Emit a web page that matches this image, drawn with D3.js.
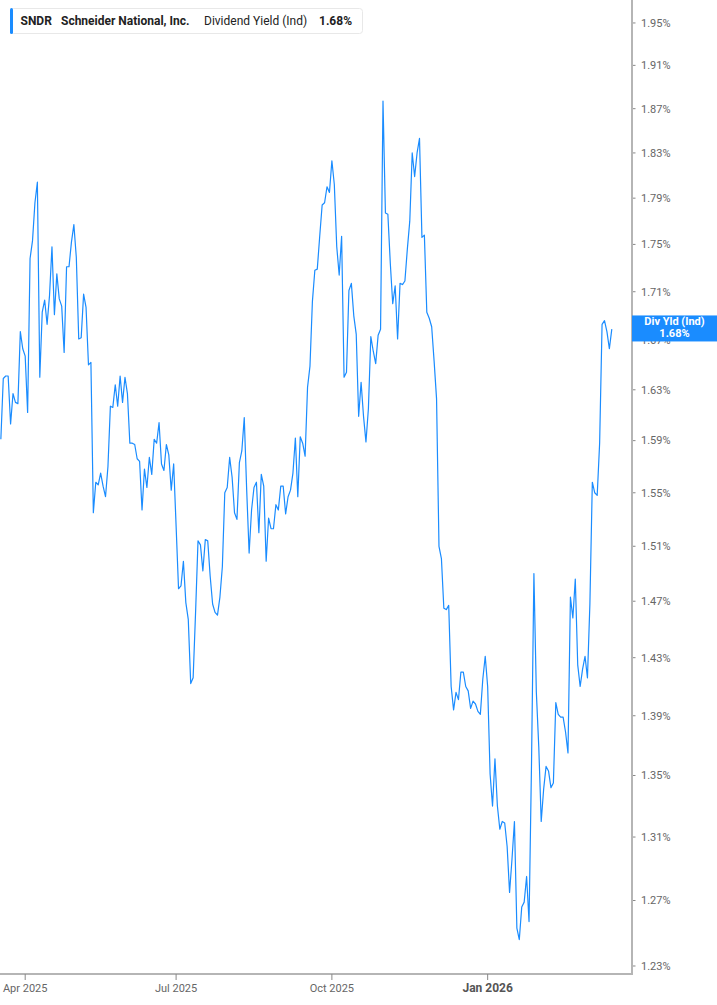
<!DOCTYPE html>
<html>
<head>
<meta charset="utf-8">
<script src="https://cdn.jsdelivr.net/npm/d3@7"></script>
<style>
  html, body { margin: 0; padding: 0; background: #fff; }
  svg { display: block; font-family: Roboto, "Noto Sans", sans-serif; }
</style>
</head>
<body>
<script>
// Daily dividend yield (%), one value per trading day, 2025-03-18 .. 2026-03-18
const yieldValues = [
  1.591, 1.639, 1.641, 1.641, 1.603, 1.627, 1.620, 1.619, 1.677, 1.663,
  1.657, 1.612, 1.738, 1.753, 1.786, 1.804, 1.640, 1.693, 1.703, 1.683,
  1.707, 1.748, 1.691, 1.725, 1.704, 1.698, 1.660, 1.731, 1.731, 1.752,
  1.767, 1.739, 1.671, 1.672, 1.708, 1.697, 1.650, 1.652, 1.535, 1.558,
  1.556, 1.565, 1.555, 1.547, 1.570, 1.617, 1.616, 1.634, 1.617, 1.641,
  1.620, 1.640, 1.627, 1.588, 1.588, 1.587, 1.576, 1.574, 1.537, 1.568,
  1.554, 1.577, 1.564, 1.591, 1.588, 1.604, 1.572, 1.567, 1.587, 1.579,
  1.552, 1.572, 1.525, 1.479, 1.481, 1.499, 1.469, 1.457, 1.412, 1.416,
  1.462, 1.514, 1.511, 1.492, 1.515, 1.514, 1.488, 1.468, 1.462, 1.460,
  1.473, 1.495, 1.550, 1.554, 1.577, 1.562, 1.535, 1.530, 1.573, 1.582,
  1.608, 1.552, 1.505, 1.537, 1.554, 1.558, 1.520, 1.564, 1.555, 1.499,
  1.531, 1.523, 1.523, 1.541, 1.537, 1.555, 1.555, 1.534, 1.547, 1.552,
  1.565, 1.592, 1.547, 1.593, 1.588, 1.578, 1.632, 1.649, 1.702, 1.728,
  1.729, 1.757, 1.784, 1.786, 1.800, 1.795, 1.823, 1.802, 1.748, 1.724,
  1.757, 1.640, 1.644, 1.711, 1.717, 1.690, 1.675, 1.609, 1.636, 1.609,
  1.589, 1.615, 1.673, 1.661, 1.651, 1.674, 1.679, 1.877, 1.777, 1.776,
  1.734, 1.700, 1.715, 1.671, 1.717, 1.716, 1.719, 1.746, 1.770, 1.830,
  1.809, 1.830, 1.843, 1.756, 1.758, 1.693, 1.688, 1.681, 1.653, 1.623,
  1.510, 1.501, 1.465, 1.464, 1.467, 1.410, 1.394, 1.406, 1.401, 1.420,
  1.420, 1.410, 1.407, 1.395, 1.400, 1.398, 1.393, 1.391, 1.415, 1.431,
  1.410, 1.351, 1.330, 1.361, 1.330, 1.315, 1.320, 1.319, 1.304, 1.275,
  1.296, 1.320, 1.253, 1.246, 1.266, 1.269, 1.285, 1.257, 1.356, 1.490,
  1.406, 1.369, 1.320, 1.341, 1.356, 1.353, 1.342, 1.345, 1.399, 1.391,
  1.389, 1.389, 1.379, 1.365, 1.473, 1.458, 1.486, 1.425, 1.410, 1.422,
  1.431, 1.416, 1.468, 1.558, 1.550, 1.548, 1.588, 1.683, 1.686, 1.677,
  1.663, 1.679
];

// month-start trading days (index into yieldValues) and their labels
const monthTickIndex = [10, 72, 136, 200];
const monthTickLabels = ['Apr 2025', 'Jul 2025', 'Oct 2025', 'Jan 2026'];
const yearStartTick = 'Jan 2026';

// right axis ticks (%)
const yTicks = [1.23, 1.27, 1.31, 1.35, 1.39, 1.43, 1.47, 1.51, 1.55, 1.59,
                1.63, 1.67, 1.71, 1.75, 1.79, 1.83, 1.87, 1.91, 1.95];

const ticker = 'SNDR';
const company = 'Schneider National, Inc.';
const seriesName = 'Dividend Yield (Ind)';
const shortName = 'Div Yld (Ind)';
const lastValue = 1.68;

// Layout
const W = 717, H = 1005;
const plotW = 632, plotH = 974;
const blue = '#1a8cff';

const svg = d3.select('body').append('svg')
    .attr('width', W)
    .attr('height', H);

const x = d3.scaleLinear()
    .domain([-0.35, 259.3])
    .range([0, plotW]);

const y = d3.scaleLog()
    .domain([1.2252, 1.972])
    .range([plotH, 0]);

svg.append('defs').append('clipPath')
    .attr('id', 'plot-clip')
    .append('rect')
    .attr('width', plotW)
    .attr('height', plotH);

// Series line
const line = d3.line()
    .x((d, i) => x(i))
    .y(d => y(d));

svg.append('path')
    .datum(yieldValues)
    .attr('clip-path', 'url(#plot-clip)')
    .attr('fill', 'none')
    .attr('stroke', blue)
    .attr('stroke-width', 1.2)
    .attr('stroke-linejoin', 'round')
    .attr('d', line);

// Right axis
const yAxis = svg.append('g').attr('class', 'y-axis');

yAxis.selectAll('text')
    .data(yTicks)
    .enter()
    .append('text')
    .attr('x', plotW + 9)
    .attr('y', d => y(d))
    .attr('dy', '0.35em')
    .attr('font-size', '11px')
    .attr('fill', '#666')
    .text(d => d.toFixed(2) + '%');

yAxis.selectAll('line.tick')
    .data(yTicks)
    .enter()
    .append('line')
    .attr('class', 'tick')
    .attr('x1', plotW)
    .attr('x2', plotW + 3.5)
    .attr('y1', d => y(d))
    .attr('y2', d => y(d))
    .attr('stroke', '#888')
    .attr('stroke-width', 1);

yAxis.append('line')
    .attr('x1', plotW)
    .attr('x2', plotW)
    .attr('y1', 0)
    .attr('y2', plotH + 1)
    .attr('stroke', '#b5b5b5')
    .attr('stroke-width', 2);

// Bottom axis
const xAxis = svg.append('g').attr('class', 'x-axis');

xAxis.append('line')
    .attr('x1', 0)
    .attr('x2', plotW + 1)
    .attr('y1', plotH)
    .attr('y2', plotH)
    .attr('stroke', '#b5b5b5')
    .attr('stroke-width', 2);

xAxis.selectAll('line.tick')
    .data(monthTickIndex)
    .enter()
    .append('line')
    .attr('class', 'tick')
    .attr('x1', d => x(d))
    .attr('x2', d => x(d))
    .attr('y1', plotH)
    .attr('y2', plotH + 6)
    .attr('stroke', '#888')
    .attr('stroke-width', 1);

xAxis.selectAll('text')
    .data(monthTickIndex)
    .enter()
    .append('text')
    .attr('x', d => x(d))
    .attr('y', plotH + 18)
    .attr('text-anchor', 'middle')
    .attr('font-size', (d, i) => monthTickLabels[i] === yearStartTick ? '12px' : '11px')
    .attr('font-weight', (d, i) => monthTickLabels[i] === yearStartTick ? 'bold' : 'normal')
    .attr('fill', (d, i) => monthTickLabels[i] === yearStartTick ? '#555' : '#666')
    .text((d, i) => monthTickLabels[i]);

// Last value flag on the axis
const flag = svg.append('g')
    .attr('transform', `translate(${plotW}, ${y(lastValue) - 12.5})`);

flag.append('rect')
    .attr('width', W - plotW)
    .attr('height', 26)
    .attr('fill', blue);

flag.append('text')
    .attr('x', (W - plotW) / 2)
    .attr('y', 10)
    .attr('text-anchor', 'middle')
    .attr('font-size', '11px')
    .attr('font-weight', 'bold')
    .attr('fill', '#fff')
    .text(shortName);

flag.append('text')
    .attr('x', (W - plotW) / 2)
    .attr('y', 22)
    .attr('text-anchor', 'middle')
    .attr('font-size', '11px')
    .attr('font-weight', 'bold')
    .attr('fill', '#fff')
    .text(lastValue.toFixed(2) + '%');

// Legend
const legend = svg.append('g').attr('class', 'legend');

legend.append('rect')
    .attr('x', 10.5)
    .attr('y', 8.5)
    .attr('width', 352)
    .attr('height', 25)
    .attr('rx', 3)
    .attr('fill', '#fff')
    .attr('stroke', '#e8e8e8');

legend.append('rect')
    .attr('x', 10)
    .attr('y', 8)
    .attr('width', 3)
    .attr('height', 26)
    .attr('rx', 1.5)
    .attr('fill', blue);

const legendParts = [
    { text: ticker, x: 20.5, bold: true },
    { text: company, x: 61, bold: true },
    { text: seriesName, x: 204, bold: false },
    { text: lastValue.toFixed(2) + '%', x: 319, bold: true }
];

legend.selectAll('text')
    .data(legendParts)
    .enter()
    .append('text')
    .attr('x', d => d.x)
    .attr('y', 25)
    .attr('font-size', '12px')
    .attr('font-weight', d => d.bold ? 'bold' : 'normal')
    .attr('fill', '#222')
    .text(d => d.text);
</script>
</body>
</html>
